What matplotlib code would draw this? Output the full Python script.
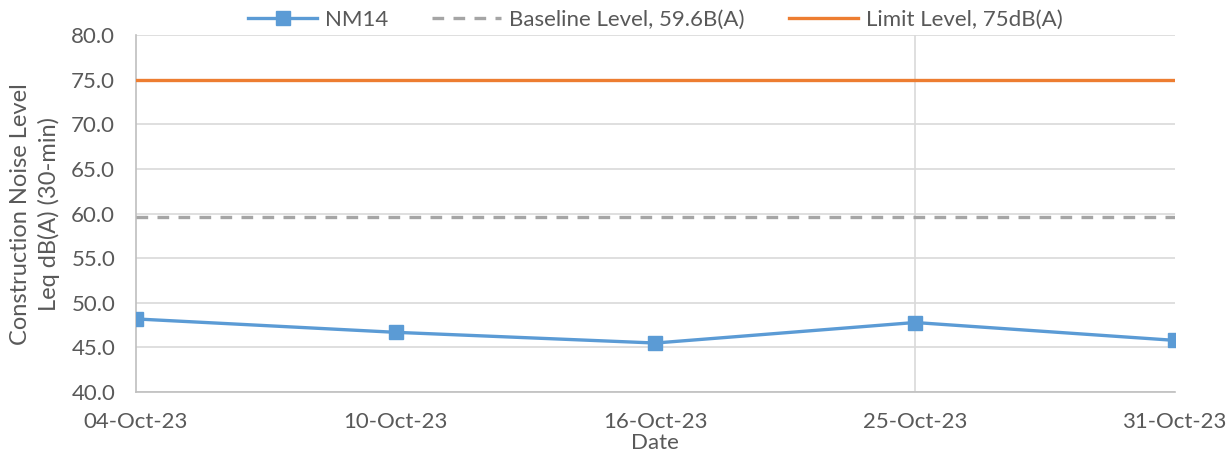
import numpy as np
import matplotlib.pyplot as plt

plt.rcParams['font.family'] = ['Lato', 'DejaVu Sans']

# Monitoring data for station NM14
dates = ['04-Oct-23', '10-Oct-23', '16-Oct-23', '25-Oct-23', '31-Oct-23']
nm14 = [48.2, 46.7, 45.5, 47.8, 45.8]
baseline = 59.6
limit = 75.0
yticks = [40, 45, 50, 55, 60, 65, 70, 75, 80]

text_col = '#595959'
x = np.arange(len(dates))

fig = plt.figure(figsize=(12.29, 4.57), dpi=100)
ax = fig.add_axes([0.1107, 0.142, 0.845, 0.781])

ax.plot(x, nm14, color='#5B9BD5', lw=2.4, marker='s', ms=10.5, label='NM14', zorder=4)
ax.plot(x, [baseline] * len(x), color='#A5A5A5', lw=2.4, ls=(0, (3.5, 2.8)),
        label='Baseline Level, 59.6B(A)', zorder=3)
ax.plot(x, [limit] * len(x), color='#ED7D31', lw=2.4, label='Limit Level, 75dB(A)', zorder=3)

ax.set_xlim(0, len(dates) - 1)
ax.set_ylim(40, 80)
ax.set_yticks(yticks)
ax.set_yticklabels([f'{v:.1f}' for v in yticks])
ax.set_xticks(x)
ax.set_xticklabels(dates)
ax.grid(axis='y', color='#D9D9D9', lw=1.2)
ax.axvline(x[3], color='#D9D9D9', lw=1.2, zorder=1)
ax.set_axisbelow(True)

for side in ['top', 'right']:
    ax.spines[side].set_visible(False)
for side in ['left', 'bottom']:
    ax.spines[side].set_color('#BFBFBF')
    ax.spines[side].set_linewidth(1.2)
ax.tick_params(length=0, colors=text_col, labelsize=16)
ax.tick_params(axis='y', pad=15)
ax.tick_params(axis='x', pad=14)

ax.set_xlabel('Date', color=text_col, fontsize=16, labelpad=1)
ax.set_ylabel('Construction Noise Level\nLeq dB(A) (30-min)', color=text_col,
              fontsize=17, labelpad=8, linespacing=1.4)

ax.legend(loc='lower center', bbox_to_anchor=(0.5, 0.99), ncol=3, frameon=False,
          fontsize=16, labelcolor=text_col, handlelength=3.1, columnspacing=2.0,
          handletextpad=0.35, borderaxespad=0)

fig.savefig('out.png', dpi=100)
